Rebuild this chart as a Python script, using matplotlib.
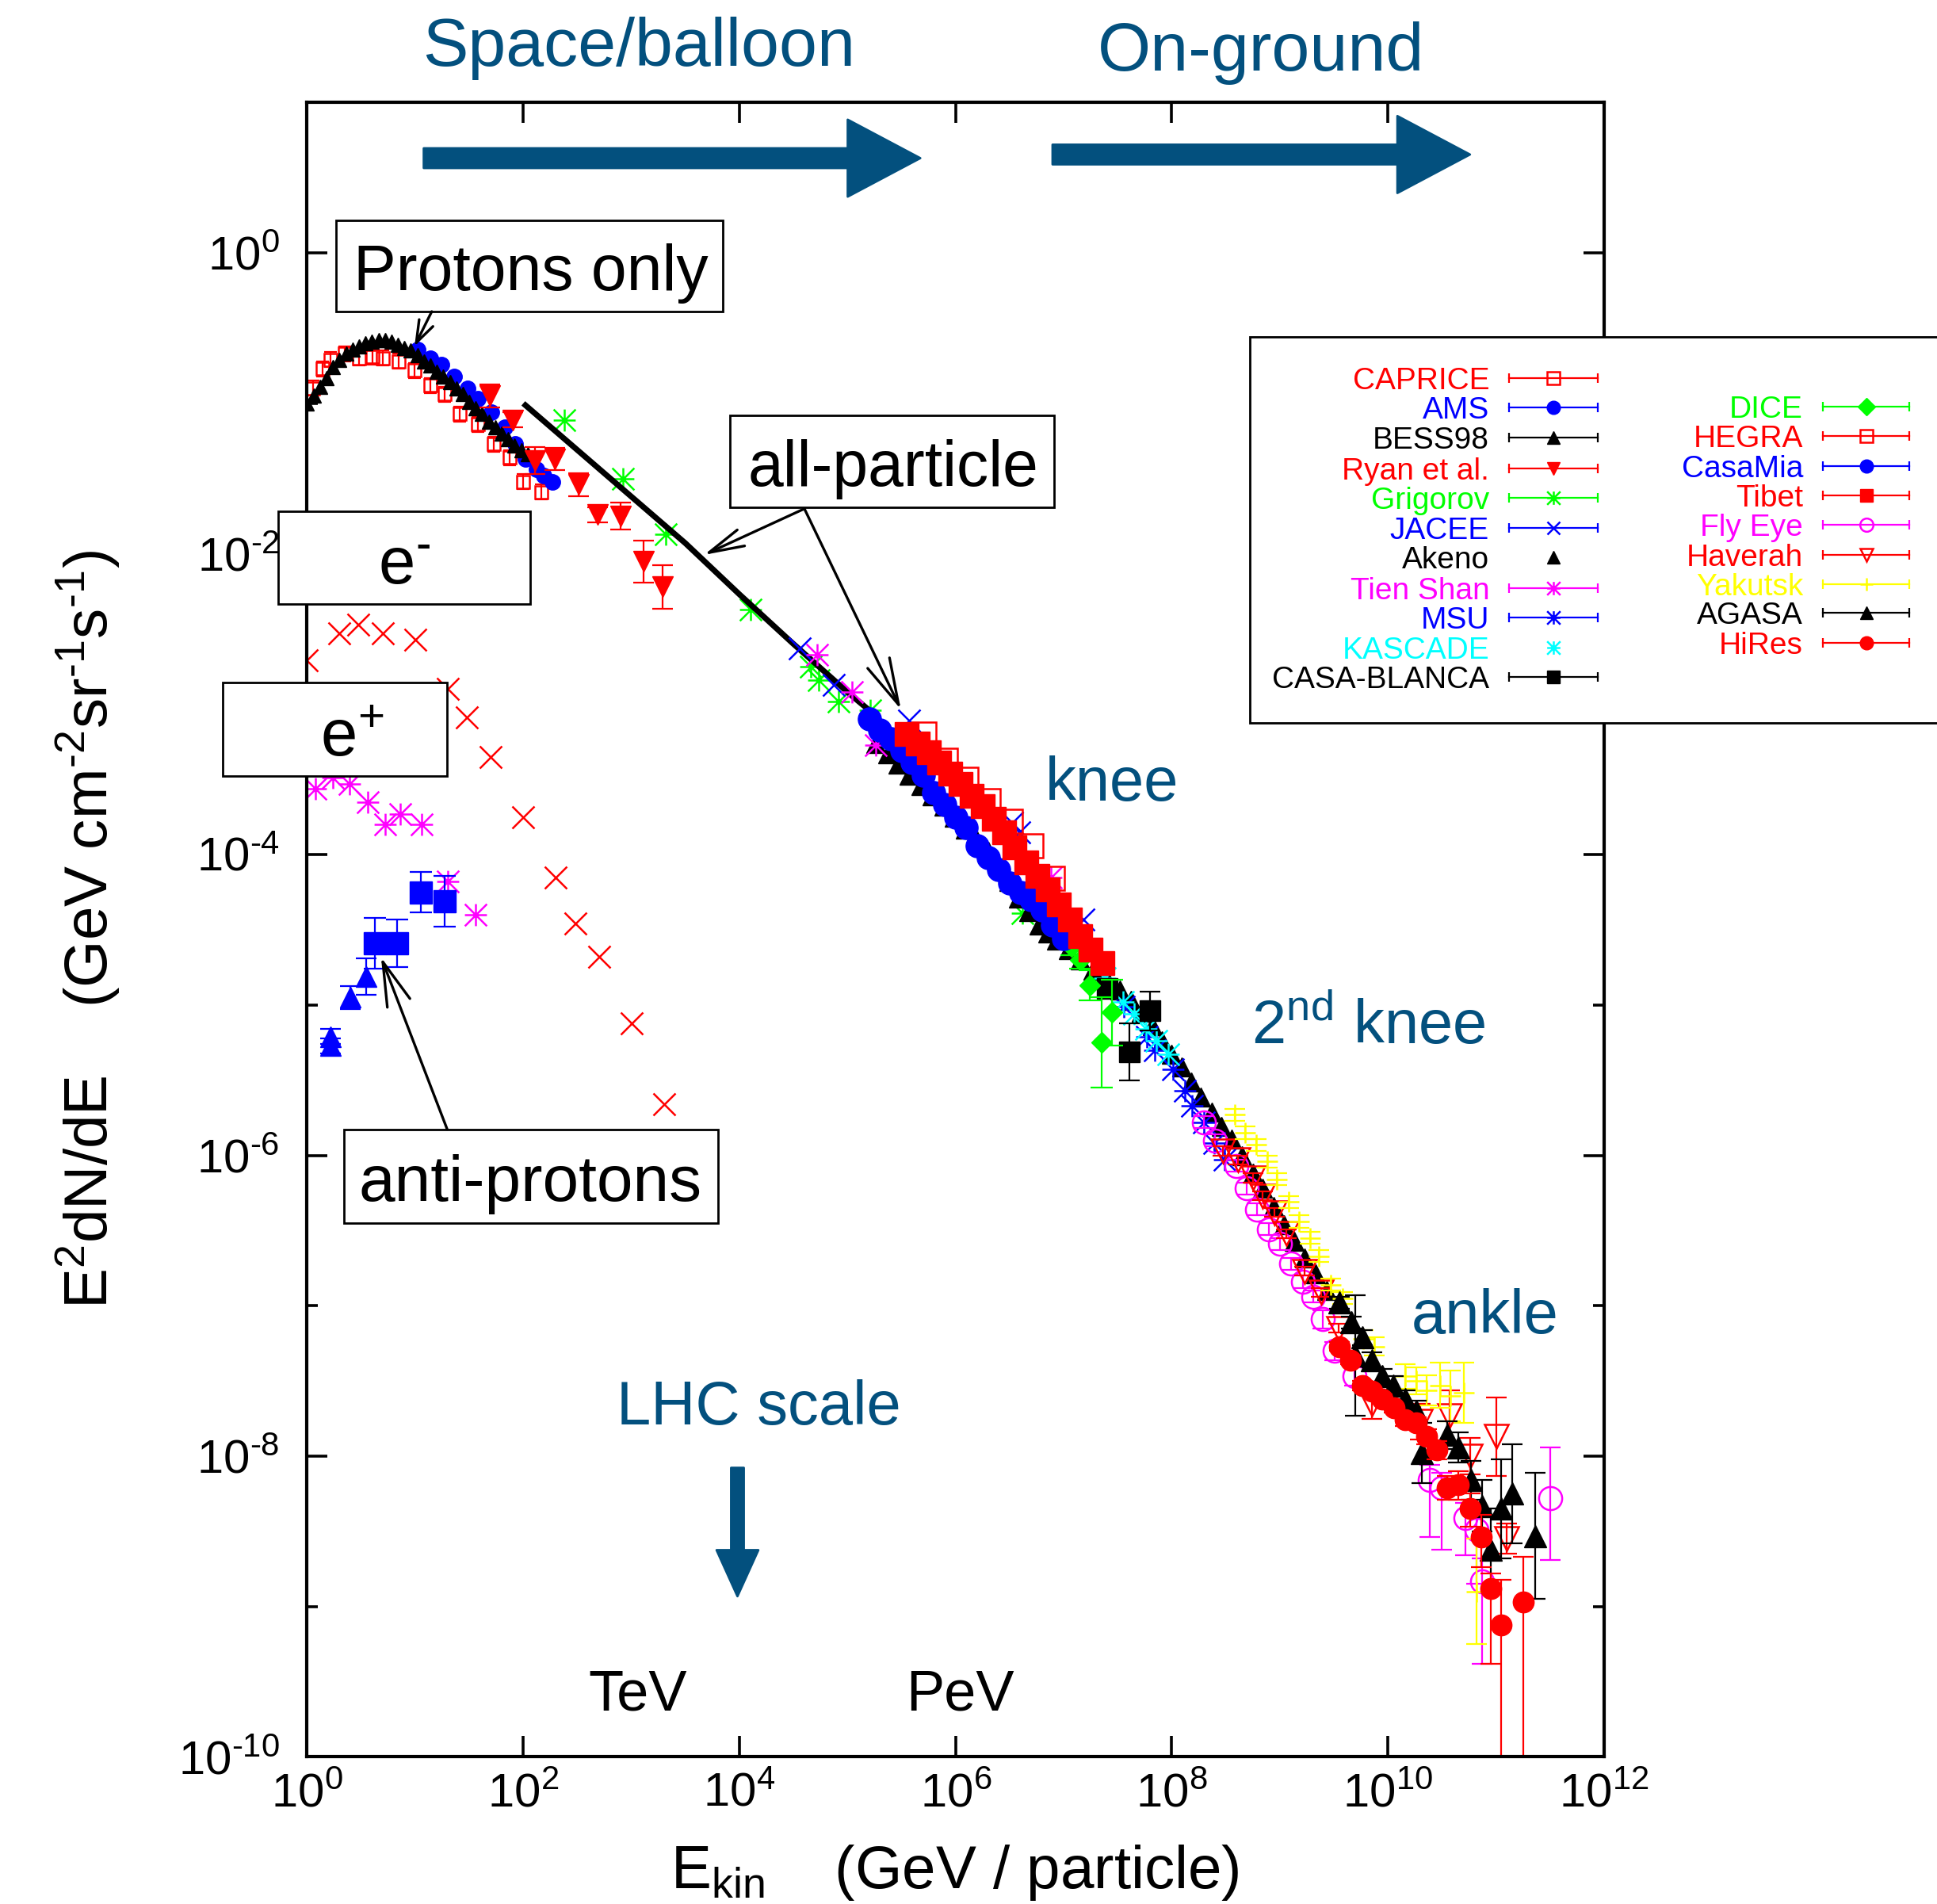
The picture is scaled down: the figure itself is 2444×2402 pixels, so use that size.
import numpy as np
import matplotlib
matplotlib.use('Agg')
import matplotlib.pyplot as plt
from matplotlib.path import Path
from matplotlib.patches import Rectangle
from matplotlib.ticker import FixedLocator, NullFormatter, NullLocator

plt.rcParams['font.family'] = ['Liberation Sans', 'DejaVu Sans']
plt.rcParams['mathtext.fontset'] = 'custom'
plt.rcParams['mathtext.rm'] = 'Liberation Sans'
plt.rcParams['mathtext.it'] = 'Liberation Sans:italic'
plt.rcParams['mathtext.bf'] = 'Liberation Sans:bold'

# ---------------- data: log10(E / GeV) and log10(E^2 dN/dE) ----------------
bess_logE = [0.00, 0.06, 0.12, 0.18, 0.24, 0.30, 0.36, 0.42, 0.48, 0.54, 0.60, 0.66,
             0.72, 0.78, 0.84, 0.90, 0.96, 1.02, 1.08, 1.14, 1.20, 1.26, 1.32, 1.38,
             1.44, 1.50, 1.56, 1.62, 1.68, 1.74, 1.80, 1.86, 1.92, 1.98, 2.04]
bess_logF = [-1.00, -0.95, -0.89, -0.83, -0.76, -0.71, -0.67, -0.64, -0.62, -0.60, -0.59, -0.58,
             -0.58, -0.59, -0.61, -0.63, -0.65, -0.68, -0.72, -0.75, -0.79, -0.82, -0.86, -0.90,
             -0.94, -0.99, -1.03, -1.07, -1.12, -1.16, -1.20, -1.24, -1.28, -1.31, -1.34]

caprice_logE = [0.055, 0.14, 0.214, 0.348, 0.48, 0.605, 0.70, 0.85, 0.996, 1.143, 1.27,
                1.41, 1.58, 1.73, 1.875, 2.0, 2.17]
caprice_logF = [-0.90, -0.77, -0.71, -0.67, -0.70, -0.69, -0.70, -0.72, -0.78, -0.88, -0.94,
                -1.07, -1.14, -1.27, -1.36, -1.52, -1.59]
caprice_err = [0.05] * 17

ams_logE = [1.02, 1.14, 1.24, 1.36, 1.485, 1.58, 1.705, 1.827, 1.925, 2.02, 2.12, 2.19, 2.27]
ams_logF = [-0.64, -0.70, -0.74, -0.82, -0.90, -0.97, -1.06, -1.16, -1.27, -1.37, -1.44, -1.48, -1.52]

ryan_logE = [1.69, 1.90, 2.11, 2.29, 2.51, 2.69, 2.90, 3.11, 3.29]
ryan_logF = [-0.95, -1.11, -1.38, -1.37, -1.54, -1.74, -1.75, -2.05, -2.22]
ryan_err = [0.075, 0.05, 0.09, 0.075, 0.075, 0.05, 0.09, 0.14, 0.145]

grigorov_logE = [2.38, 2.92, 3.32, 4.10, 4.66, 4.735, 4.92, 5.21, 6.62]
grigorov_logF = [-1.11, -1.50, -1.87, -2.37, -2.75, -2.84, -2.98, -3.04, -4.39]

jacee_logE = [4.56, 4.87, 5.57, 6.52, 6.59, 7.18]
jacee_logF = [-2.63, -2.87, -3.11, -3.79, -3.85, -4.43]

akeno_logE = [5.26, 5.37, 5.47, 5.57, 5.68, 5.78, 5.89, 5.99, 6.09, 6.19, 6.30, 6.40, 6.49,
              6.58, 6.68, 6.77, 6.85, 6.93, 7.04, 7.15, 7.27, 7.40, 7.52, 7.62, 7.72, 7.82,
              7.91, 8.00, 8.09, 8.18, 8.27, 8.37, 8.46, 8.55, 8.65, 8.75, 8.84, 8.94, 9.04, 9.13,
              9.23, 9.33, 9.43]
akeno_logF = [-3.26, -3.33, -3.40, -3.47, -3.54, -3.61, -3.68, -3.75, -3.83, -3.90, -3.98, -4.07, -4.18,
              -4.29, -4.38, -4.47, -4.52, -4.57, -4.63, -4.70, -4.77, -4.83, -4.90, -4.97, -5.05, -5.14,
              -5.24, -5.33, -5.41, -5.51, -5.61, -5.71, -5.81, -5.89, -6.00, -6.12, -6.22, -6.34, -6.46, -6.57,
              -6.68, -6.79, -6.90]

tienshan_logE = [4.72, 5.04, 5.26, 6.88]
tienshan_logF = [-2.67, -2.92, -3.27, -4.15]

msu_logE = [7.56, 7.77, 7.84, 8.01, 8.12, 8.19, 8.30, 8.39, 8.49]
msu_logF = [-5.01, -5.21, -5.30, -5.43, -5.57, -5.67, -5.78, -5.92, -6.03]

kascade_logE = [7.38, 7.55, 7.65, 7.76, 7.86, 7.97]
kascade_logF = [-4.82, -4.98, -5.06, -5.16, -5.24, -5.33]

casablanca_logE = [7.40, 7.61, 7.80]
casablanca_logF = [-4.89, -5.31, -5.04]
casablanca_err = [0.05, 0.19, 0.13]

dice_logE = [7.07, 7.155, 7.24, 7.35, 7.45]
dice_logF = [-4.61, -4.70, -4.87, -5.25, -5.05]
dice_err = [0.06, 0.06, 0.10, 0.30, 0.22]

hegra_logE = [5.71, 5.91, 6.10, 6.30, 6.51, 6.70, 6.90]
hegra_logF = [-3.20, -3.37, -3.50, -3.64, -3.78, -3.94, -4.16]

casamia_logE = [5.2, 5.3, 5.4, 5.5, 5.6, 5.7, 5.8, 5.9, 6.0, 6.1, 6.2, 6.3, 6.4, 6.5,
                6.6, 6.7, 6.8, 6.9, 7.0]
casamia_logF = [-3.10, -3.17, -3.23, -3.31, -3.39, -3.47, -3.59, -3.67, -3.75, -3.82, -3.94,
                -4.02, -4.10, -4.19, -4.25, -4.30, -4.37, -4.47, -4.56]

tibet_logE = [5.547, 5.651, 5.749, 5.847, 5.949, 6.047, 6.152, 6.25, 6.352, 6.45, 6.548,
              6.653, 6.756, 6.853, 6.952, 7.056, 7.154, 7.252, 7.355]
tibet_logF = [-3.20, -3.26, -3.32, -3.39, -3.46, -3.53, -3.61, -3.68, -3.76, -3.85, -3.95,
              -4.05, -4.14, -4.23, -4.33, -4.43, -4.54, -4.63, -4.72]

flyeye_logE = [8.30, 8.40, 8.60, 8.69, 8.79, 8.90, 9.00, 9.10, 9.21, 9.31, 9.40, 9.51,
               9.69, 10.39, 10.50, 10.72, 10.82, 10.87, 11.50]
flyeye_logF = [-5.78, -5.90, -6.07, -6.22, -6.36, -6.49, -6.59, -6.72, -6.84, -6.94, -7.09, -7.30,
               -7.47, -8.16, -8.21, -8.41, -8.49, -8.83, -8.28]
flyeye_lo = [0.04] * 10 + [0.06, 0.06, 0.06, 0.38, 0.41, 0.25, 0.36, 0.55, 0.41]
flyeye_hi = [0.04] * 10 + [0.06, 0.06, 0.06, 0.10, 0.10, 0.10, 0.12, 0.15, 0.34]

haverah_logE = [8.47, 8.61, 8.755, 8.84, 8.95, 9.06, 9.23, 9.38, 9.54, 9.855, 10.3, 10.57,
                10.76, 11.0, 11.1]
haverah_logF = [-5.97, -6.03, -6.15, -6.27, -6.38, -6.52, -6.77, -6.91, -7.15, -7.65, -7.77, -7.73,
                -8.00, -7.87, -8.55]
haverah_err = [0.03] * 9 + [0.10, 0.12, 0.17, 0.12, 0.26, 0.10]

yakutsk_logE = [8.58, 8.68, 8.78, 8.88, 8.975, 9.08, 9.18, 9.28, 9.36, 9.47, 9.58, 9.77,
                9.875, 10.16, 10.26, 10.36, 10.48, 10.58, 10.70, 10.82]
yakutsk_logF = [-5.73, -5.85, -5.93, -6.04, -6.16, -6.31, -6.44, -6.55, -6.67, -6.86, -6.95, -7.22,
                -7.27, -7.47, -7.50, -7.56, -7.53, -7.60, -7.58, -8.90]
yakutsk_err = [0.04] * 11 + [0.06, 0.06, 0.08, 0.09, 0.10, 0.15, 0.17, 0.20, 0.35]

agasa_logE = [9.55, 9.66, 9.70, 9.76, 9.855, 9.95, 10.05, 10.16, 10.26, 10.31, 10.55, 10.65,
              10.77, 10.87, 10.955, 11.05, 11.15, 11.36]
agasa_logF = [-6.98, -7.11, -7.33, -7.21, -7.36, -7.47, -7.53, -7.62, -7.70, -7.98, -7.86, -7.94,
              -8.16, -8.33, -8.62, -8.35, -8.25, -8.53]
agasa_err = [0.04, 0.04, 0.40, 0.05, 0.05, 0.05, 0.06, 0.06, 0.07, 0.20, 0.09, 0.10,
             0.13, 0.17, 0.27, 0.33, 0.33, 0.42]

hires_logE = [9.55, 9.65, 9.76, 9.855, 9.95, 10.06, 10.16, 10.26, 10.36, 10.45, 10.55, 10.65,
              10.76, 10.86, 10.955, 11.05, 11.25]
hires_logF = [-7.27, -7.36, -7.53, -7.57, -7.62, -7.68, -7.76, -7.78, -7.87, -7.96, -8.21, -8.19,
              -8.35, -8.54, -8.88, -9.12, -8.97]
hires_lo = [0.03] * 6 + [0.04, 0.04, 0.05, 0.06, 0.08, 0.10, 0.12, 0.20, 0.50, 1.30, 1.40]
hires_hi = [0.03] * 6 + [0.04, 0.04, 0.05, 0.06, 0.08, 0.09, 0.10, 0.15, 0.10, 0.30, 0.30]

# all-particle spectrum (line)
allpart_logE = [2.0, 2.5, 3.0, 3.5, 4.0, 4.5, 5.0, 5.2]
allpart_logF = [-1.00, -1.31, -1.62, -1.93, -2.27, -2.60, -2.92, -3.04]

# electrons, positrons, anti-protons
eminus_logE = [0.0, 0.296, 0.47, 0.70, 1.0, 1.30, 1.475, 1.70, 2.0, 2.30, 2.48, 2.70, 3.0, 3.30]
eminus_logF = [-2.71, -2.53, -2.47, -2.53, -2.57, -2.90, -3.09, -3.35, -3.75, -4.15, -4.46, -4.68,
               -5.12, -5.66]

eplus_logE = [0.08, 0.24, 0.39, 0.56, 0.72, 0.865, 1.06, 1.30, 1.56]
eplus_logF = [-3.56, -3.49, -3.53, -3.65, -3.80, -3.73, -3.80, -4.18, -4.40]

pbar_tri_logE = [0.22, 0.22, 0.40, 0.547]
pbar_tri_logF = [-5.27, -5.21, -4.95, -4.81]
pbar_tri_err = [0.05, 0.05, 0.078, 0.12]

pbar_sq_logE = [0.63, 0.83, 1.05, 1.27]
pbar_sq_logF = [-4.59, -4.59, -4.25, -4.31]
pbar_sq_err = [0.17, 0.16, 0.135, 0.17]

# ---------------- styles ----------------
RED, BLUE, GREEN = '#ff0000', '#0000ff', '#00ff00'
MAG, CYAN, YEL, BLK = '#ff00ff', '#00ffff', '#ffff00', '#000000'
NAVY = '#03507e'

star = Path([(-1, 0), (1, 0), (0, -1), (0, 1), (-1, -1), (1, 1), (-1, 1), (1, -1)],
            [Path.MOVETO, Path.LINETO] * 4)


def filled(m, c, ms):
    return dict(marker=m, ms=ms, mfc=c, mec=c, mew=0.5, color=c)


def hollow(m, c, ms):
    return dict(marker=m, ms=ms, mfc='none', mec=c, mew=0.9, color=c)


st_caprice = hollow('s', RED, 5.5)
st_ams = filled('o', BLUE, 7)
st_bess = filled('^', BLK, 6.5)
st_ryan = filled('v', RED, 9.5)
st_grig = hollow(star, GREEN, 10)
st_jacee = hollow('x', BLUE, 10)
st_akeno = filled('^', BLK, 8.5)
st_tien = hollow(star, MAG, 10)
st_msu = hollow(star, BLUE, 10)
st_kasc = hollow(star, CYAN, 10)
st_cb = filled('s', BLK, 9.5)
st_dice = filled('D', GREEN, 6.8)
st_hegra = hollow('s', RED, 10.5)
st_casamia = filled('o', BLUE, 10.5)
st_tibet = filled('s', RED, 10.5)
st_fly = hollow('o', MAG, 10.5)
st_hav = hollow('v', RED, 10.5)
st_yak = hollow('+', YEL, 9.5)
st_agasa = filled('^', BLK, 10)
st_hires = filled('o', RED, 9.5)
st_em = hollow('x', RED, 10)
st_pbt = filled('^', BLUE, 9.5)
st_pbs = filled('s', BLUE, 10)

fig = plt.figure(figsize=(2444 / 200, 2402 / 200), dpi=200)
ax = fig.add_axes([0.15855, 0.07723, 0.6696, 0.8689])
ax.set_xscale('log')
ax.set_yscale('log')
ax.set_xlim(1, 1e12)
ax.set_ylim(1e-10, 1e1)


def plot_set(logE, logF, st, lo=None, hi=None, cap=4.8, z=2):
    x = 10.0 ** np.array(logE)
    y = 10.0 ** np.array(logF)
    if lo is not None:
        lo = np.array(lo)
        hi = lo if hi is None else np.array(hi)
        yerr = [y - y * 10.0 ** -lo, y * 10.0 ** hi - y]
        ax.errorbar(x, y, yerr=yerr, fmt='none', ecolor=st['color'], elinewidth=0.8,
                    capsize=cap, capthick=0.8, zorder=z)
    ax.plot(x, y, ls='none', zorder=z, **st)


plot_set(caprice_logE, caprice_logF, st_caprice, caprice_err, cap=2.8, z=2.0)
plot_set(ams_logE, ams_logF, st_ams, z=2.01)
plot_set(bess_logE, bess_logF, st_bess, z=2.02)
plot_set(ryan_logE, ryan_logF, st_ryan, ryan_err, cap=4.8, z=2.03)
plot_set(grigorov_logE, grigorov_logF, st_grig, z=2.04)
ax.plot(10.0 ** np.array(allpart_logE), 10.0 ** np.array(allpart_logF), color=BLK, lw=2.6,
        solid_capstyle='butt', zorder=2.045)
plot_set(jacee_logE, jacee_logF, st_jacee, z=2.05)
plot_set(akeno_logE, akeno_logF, st_akeno, z=2.06)
plot_set(tienshan_logE, tienshan_logF, st_tien, z=2.07)
plot_set(eplus_logE, eplus_logF, st_tien, z=2.07)
plot_set(msu_logE, msu_logF, st_msu, z=2.08)
plot_set(kascade_logE, kascade_logF, st_kasc, z=2.09)
plot_set(casablanca_logE, casablanca_logF, st_cb, casablanca_err, z=2.10)
plot_set(dice_logE, dice_logF, st_dice, dice_err, cap=5.2, z=2.11)
plot_set(hegra_logE, hegra_logF, st_hegra, z=2.12)
plot_set(casamia_logE, casamia_logF, st_casamia, z=2.13)
plot_set(tibet_logE, tibet_logF, st_tibet, z=2.14)
plot_set(flyeye_logE, flyeye_logF, st_fly, flyeye_lo, flyeye_hi, z=2.15)
plot_set(haverah_logE, haverah_logF, st_hav, haverah_err, z=2.16)
plot_set(yakutsk_logE, yakutsk_logF, st_yak, yakutsk_err, z=2.17)
plot_set(agasa_logE, agasa_logF, st_agasa, agasa_err, z=2.18)
plot_set(hires_logE, hires_logF, st_hires, hires_lo, hires_hi, z=2.19)
plot_set(eminus_logE, eminus_logF, st_em, z=2.2)
plot_set(pbar_tri_logE, pbar_tri_logF, st_pbt, pbar_tri_err, cap=4.8, z=2.2)
plot_set(pbar_sq_logE, pbar_sq_logF, st_pbs, pbar_sq_err, cap=5.0, z=2.2)

# ---------------- axes ----------------
def pow_label(k):
    if k < 0:
        return r'$\mathregular{10^{\text{-}%d}}$' % (-k)
    return r'$\mathregular{10^{%d}}$' % k


for s in ax.spines.values():
    s.set_linewidth(1.5)
ax.set_xticks([10.0 ** k for k in range(0, 13, 2)])
ax.set_xticklabels([pow_label(k) for k in range(0, 13, 2)])
ax.xaxis.set_minor_locator(NullLocator())
ax.set_yticks([10.0 ** k for k in range(-10, 1, 2)])
ax.set_yticklabels([pow_label(k) for k in range(-10, 1, 2)])
ax.yaxis.set_minor_locator(FixedLocator([10.0 ** k for k in range(-9, 1, 2)]))
ax.yaxis.set_minor_formatter(NullFormatter())
ax.tick_params(which='both', direction='in', top=True, right=True, width=1.3)
ax.tick_params(which='major', length=9.5, labelsize=21.5)
ax.tick_params(which='minor', length=5)
ax.tick_params(axis='x', pad=7)
ax.tick_params(axis='y', pad=12.5)

fig.text(0.4930, 0.0085, r'$\mathregular{E_{kin}}$    (GeV / particle)', fontsize=27.5,
         ha='center', va='baseline')
fig.text(0.0455, 0.512,
         r'$\mathregular{E^{2}dN/dE}$    (GeV cm$^{\mathregular{\text{-}2}}$sr$^{\mathregular{\text{-}1}}$s$^{\mathregular{\text{-}1}}$)',
         fontsize=27.5, rotation=90, ha='center', va='center')

# ---------------- headers and big arrows ----------------
fig.text(0.3297, 0.9656, 'Space/balloon', color=NAVY, fontsize=31, ha='center', va='baseline')
fig.text(0.6511, 0.9630, 'On-ground', color=NAVY, fontsize=31, ha='center', va='baseline')

big = dict(arrowstyle='simple,head_length=33,head_width=35,tail_width=9',
           mutation_scale=1, color=NAVY, shrinkA=0, shrinkB=0)
ax.annotate('', xy=(0.4728, 0.9664), xytext=(0.0899, 0.9664), xycoords='axes fraction',
            arrowprops=big)
ax.annotate('', xy=(0.8966, 0.9686), xytext=(0.5747, 0.9686), xycoords='axes fraction',
            arrowprops=big)
ax.annotate('', xy=(0.3318, 0.0971), xytext=(0.3318, 0.1748), xycoords='axes fraction',
            arrowprops=dict(arrowstyle='simple,head_length=21,head_width=19,tail_width=5.8',
                            mutation_scale=1, color=NAVY, shrinkA=0, shrinkB=0))

ax.text(0.6204, 0.578, 'knee', color=NAVY, fontsize=28, ha='center', va='baseline', transform=ax.transAxes)
ax.text(0.8185, 0.431, r'$\mathregular{2^{nd}}$ knee', color=NAVY, fontsize=28, ha='center',
        va='baseline', transform=ax.transAxes)
ax.text(0.9080, 0.2562, 'ankle', color=NAVY, fontsize=28, ha='center', va='baseline', transform=ax.transAxes)
ax.text(0.348, 0.2009, 'LHC scale', color=NAVY, fontsize=28, ha='center', va='baseline', transform=ax.transAxes)
ax.text(0.2547, 0.0284, 'TeV', color=BLK, fontsize=26, ha='center', va='baseline', transform=ax.transAxes)
ax.text(0.5032, 0.0284, 'PeV', color=BLK, fontsize=26, ha='center', va='baseline', transform=ax.transAxes)


# ---------------- labelled boxes ----------------
def box(x0, y0, x1, y1):
    ax.add_patch(Rectangle((x0, y0), x1 - x0, y1 - y0, transform=ax.transAxes, fc='white',
                           ec=BLK, lw=1.0, clip_on=False, zorder=10))


box(0.0223, 0.8738, 0.3204, 0.9290)
ax.text(0.1728, 0.8865, 'Protons only', fontsize=29, ha='center', va='baseline',
        transform=ax.transAxes, zorder=11)
box(0.3261, 0.7554, 0.5757, 0.8110)
ax.text(0.4518, 0.7685, 'all-particle', fontsize=29, ha='center', va='baseline',
        transform=ax.transAxes, zorder=11)
box(-0.0225, 0.6968, 0.1718, 0.7528)
ax.text(0.0747, 0.7095, r'$\mathregular{e^{\text{-}}}$', fontsize=30, ha='center', va='baseline',
        transform=ax.transAxes, zorder=11)
box(-0.0652, 0.5930, 0.1080, 0.6497)
ax.text(0.0347, 0.6050, r'$\mathregular{e^{+}}$', fontsize=30, ha='center', va='baseline',
        transform=ax.transAxes, zorder=11)
box(0.0282, 0.3226, 0.3166, 0.3794)
ax.text(0.1718, 0.3361, 'anti-protons', fontsize=29.5, ha='center', va='baseline',
        transform=ax.transAxes, zorder=11)


def pointer(tip, base, hl, hw):
    ax.annotate('', xy=tip, xytext=base, xycoords='axes fraction',
                arrowprops=dict(arrowstyle='->,head_length=%g,head_width=%g' % (hl, hw),
                                mutation_scale=10, color=BLK, lw=1.2, shrinkA=0, shrinkB=0),
                zorder=11)


pointer((0.0828, 0.8527), (0.0961, 0.8737), 1.0, 0.35)
pointer((0.3060, 0.7266), (0.3834, 0.7545), 1.6, 0.4)
pointer((0.4578, 0.6332), (0.3834, 0.7545), 2.1, 0.55)
pointer((0.0570, 0.4834), (0.1080, 0.3794), 2.0, 0.55)

# ---------------- legend (drawn by hand, overflows the frame) ----------------
ax.add_patch(Rectangle((0.7266, 0.6252), 0.6, 0.8583 - 0.6252, transform=ax.transAxes,
                       fc='white', ec=BLK, lw=1.0, clip_on=False, zorder=10))

left_names = ['CAPRICE', 'AMS', 'BESS98', 'Ryan et al.', 'Grigorov', 'JACEE', 'Akeno',
              'Tien Shan', 'MSU', 'KASCADE', 'CASA-BLANCA']
left_styles = [st_caprice, st_ams, st_bess, st_ryan, st_grig, st_jacee, st_akeno,
               st_tien, st_msu, st_kasc, st_cb]
left_bars = [True, True, True, True, True, True, False, True, True, False, True]
left_rows = [0.8335, 0.8156, 0.7976, 0.7790, 0.7610, 0.7431, 0.7252, 0.7065, 0.6886, 0.6707, 0.6527]

right_names = ['DICE', 'HEGRA', 'CasaMia', 'Tibet', 'Fly Eye', 'Haverah', 'Yakutsk', 'AGASA', 'HiRes']
right_styles = [st_dice, st_hegra, st_casamia, st_tibet, st_fly, st_hav, st_yak, st_agasa, st_hires]
right_rows = [0.8163, 0.7984, 0.7804, 0.7625, 0.7446, 0.7267, 0.7087, 0.6916, 0.6736]


def legend_row(name, st, bar, y, xl, x0, x1, xm):
    c = st['color']
    ax.text(xl, y, name, color=c, fontsize=14, ha='right', va='center_baseline',
            transform=ax.transAxes, zorder=12, clip_on=False)
    if bar:
        ax.plot([x0, x1], [y, y], color=c, lw=0.8, transform=ax.transAxes, clip_on=False, zorder=12)
        ax.plot([x0, x1], [y, y], ls='none', marker='|', ms=4, mew=0.8, color=c,
                transform=ax.transAxes, clip_on=False, zorder=12)
    s = dict(st)
    s['ms'] = 6 if s['marker'] not in ('s', 'D') else 5.5
    ax.plot([xm], [y], ls='none', transform=ax.transAxes, clip_on=False, zorder=12.5, **s)


for n, s, b, y in zip(left_names, left_styles, left_bars, left_rows):
    legend_row(n, s, b, y, 0.9115, 0.9269, 0.9950, 0.9610)
for n, s, y in zip(right_names, right_styles, right_rows):
    legend_row(n, s, True, y, 1.1534, 1.1687, 1.2351, 1.2020)

fig.savefig('out.png', dpi=200)
